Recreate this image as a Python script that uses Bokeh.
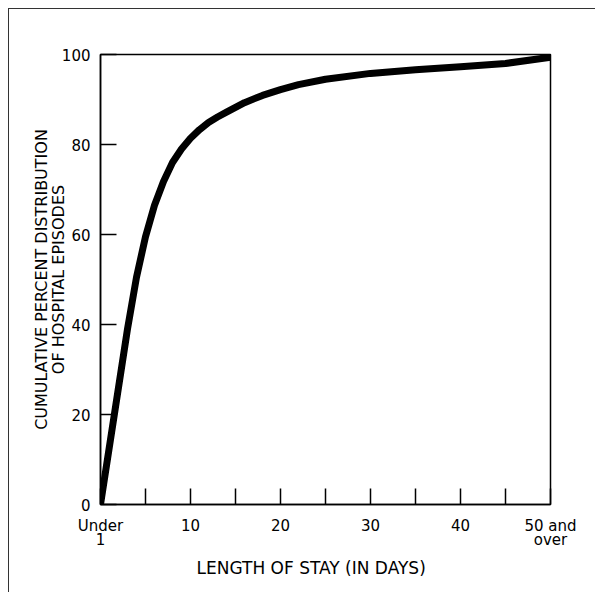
from bokeh.plotting import figure
from bokeh.models import FixedTicker, Title
from bokeh.embed import file_html
from bokeh.resources import INLINE

# Length of stay (days) and cumulative percent of hospital episodes
days = [0, 1, 2, 3, 4, 5, 6, 7, 8, 9, 10, 11, 12, 13, 14, 16, 18, 20, 22, 25, 30, 35, 40, 45, 50]
cum_pct = [0, 13, 26, 39, 50.5, 59.5, 66.5, 71.8, 76, 79, 81.4, 83.3, 84.9, 86.1, 87.2, 89.3,
           90.9, 92.2, 93.3, 94.5, 95.8, 96.6, 97.3, 98.0, 99.4]

x_ticks = [0, 5, 10, 15, 20, 25, 30, 35, 40, 45, 50]
x_tick_labels = {0: "Under\n1", 5: "", 10: "10", 15: "", 20: "20", 25: "", 30: "30",
                 35: "", 40: "40", 45: "", 50: "50 and\nover"}
y_ticks = [0, 20, 40, 60, 80, 100]

FONT = "DejaVu Sans"

p = figure(width=586, height=583, x_range=(0, 50), y_range=(0, 100),
           output_backend="svg", toolbar_location=None,
           min_border_left=91, min_border_right=45, min_border_top=45, min_border_bottom=88)
p.frame_width = 450
p.frame_height = 450
p.styles = {"margin-left": "8px", "margin-top": "8px",
            "border-top": "1.5px solid #333", "border-left": "1.5px solid #333"}
p.grid.visible = False
p.background_fill_color = "white"
p.border_fill_color = "white"
p.outline_line_color = "black"
p.outline_line_width = 1.5

p.line(days, cum_pct, line_width=7, line_color="black", line_cap="round", line_join="round")

for ax in (p.xaxis[0], p.yaxis[0]):
    ax.axis_line_color = "black"
    ax.axis_line_width = 1.5
    ax.major_tick_line_color = "black"
    ax.major_tick_line_width = 1.5
    ax.major_tick_in = 16
    ax.major_tick_out = 0
    ax.minor_tick_line_color = None
    ax.major_label_text_font = FONT
    ax.major_label_text_font_size = "15px"
    ax.major_label_text_color = "black"
    ax.major_label_text_line_height = 0.8

p.xaxis.ticker = FixedTicker(ticks=x_ticks)
p.xaxis.major_label_overrides = x_tick_labels
p.xaxis.major_label_standoff = 12
p.yaxis.ticker = FixedTicker(ticks=y_ticks)
p.yaxis.major_label_standoff = 10

p.yaxis.axis_label = "CUMULATIVE PERCENT DISTRIBUTION\nOF HOSPITAL EPISODES"
p.yaxis.axis_label_text_font = FONT
p.yaxis.axis_label_text_font_size = "16px"
p.yaxis.axis_label_text_font_style = "normal"
p.yaxis.axis_label_text_color = "black"
p.yaxis.axis_label_text_line_height = 0.88
p.yaxis.axis_label_standoff = -9

# x-axis title, below the axis, shifted left like the original
p.add_layout(Title(text="LENGTH OF STAY (IN DAYS)", align="left", offset=96,
                   text_font=FONT, text_font_size="17px", text_font_style="normal",
                   text_color="black", standoff=8), "below")

open("out.html", "w").write(file_html(p, INLINE))
